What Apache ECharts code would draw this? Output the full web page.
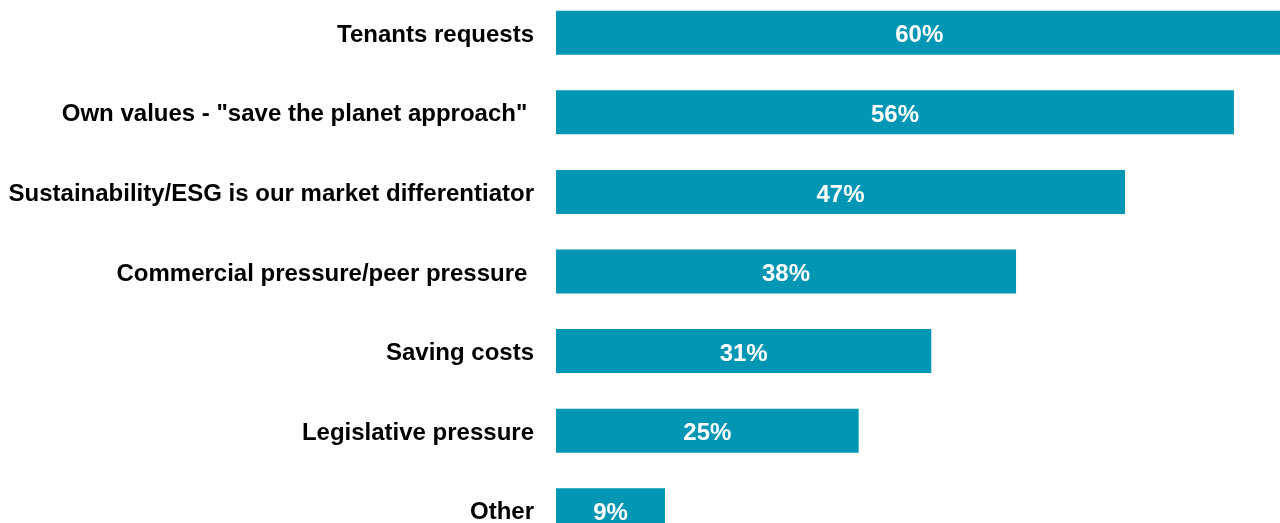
<!DOCTYPE html>
<html>
<head>
<meta charset="utf-8">
<script src="https://cdn.jsdelivr.net/npm/echarts@6/dist/echarts.min.js"></script>
<style>
  html, body { margin: 0; padding: 0; background: #ffffff; }
  #chart { width: 1280px; height: 523px; }
</style>
</head>
<body>
<div id="chart"></div>
<script>
// Reasons for pursuing sustainability, share of respondents (%)
const categories = [
  'Tenants requests',
  'Own values - "save the planet approach" ',
  'Sustainability/ESG is our market differentiator',
  'Commercial pressure/peer pressure ',
  'Saving costs',
  'Legislative pressure',
  'Other'
];
const shares = [60, 56, 47, 38, 31, 25, 9];

const FONT = "'Liberation Sans', Arial, Helvetica, sans-serif";

const chart = echarts.init(document.getElementById('chart'), null, { renderer: 'canvas' });

chart.setOption({
  animation: false,
  backgroundColor: '#ffffff',
  grid: {
    left: 556,
    top: -7,
    width: 726.4,
    height: 557,
    containLabel: false,
    outerBoundsMode: 'none'
  },
  xAxis: {
    type: 'value',
    min: 0,
    max: 60,
    show: false
  },
  yAxis: {
    type: 'category',
    data: categories,
    inverse: true,
    axisLine: { show: false },
    axisTick: { show: false },
    splitLine: { show: false },
    axisLabel: {
      margin: 22,
      formatter: function (name) { return '{c|' + name + '}'; },
      rich: {
        c: {
          color: '#000000',
          fontFamily: FONT,
          fontWeight: 'bold',
          fontSize: 24,
          lineHeight: 24,
          padding: [5, 0, 0, 0]
        }
      }
    }
  },
  series: [{
    type: 'bar',
    data: shares,
    barWidth: 44,
    clip: true,
    itemStyle: { color: '#0096B4' },
    label: {
      show: true,
      position: 'inside',
      offset: [0, 3],
      formatter: '{c}%',
      color: '#ffffff',
      fontFamily: FONT,
      fontWeight: 'bold',
      fontSize: 24
    }
  }]
});
</script>
</body>
</html>
